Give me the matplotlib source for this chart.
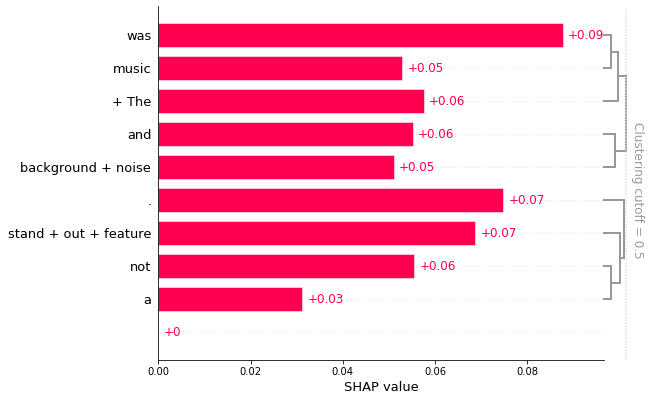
import matplotlib
matplotlib.use("Agg")
import matplotlib.pyplot as plt
import numpy as np

# ---- data (top row first) ----
features = ["was", "music", "+ The", "and", "background + noise", ".",
            "stand + out + feature", "not", "a", ""]
values = [0.0877, 0.0529, 0.0576, 0.0551, 0.0511, 0.0748, 0.0687, 0.0555, 0.0312, 0.0]

# clustering merges: (child_a, child_b, distance); leaves 0..8, merge k gets id 9+k
merges = [(0, 1, 0.152), (9, 2, 0.304), (3, 4, 0.239), (10, 11, 0.493),
          (7, 8, 0.152), (6, 13, 0.37), (5, 14, 0.441)]
cutoff = 0.5

red = "#ff0051"
fig = plt.figure(figsize=(9, 401 / 72), dpi=72)
ax = fig.add_axes([158.3 / 648, 1 - 360 / 401, (604 - 158.3) / 648, (360 - 6) / 401])

n = len(features)
ypos = np.arange(n)
xmax = 0.0966

for i in range(n):
    ax.axhline(ypos[i], color="#888888", lw=0.5, dashes=(1, 5), zorder=-1)

ax.barh(ypos, values, height=0.7, color=red, edgecolor="white", linewidth=0.5, zorder=2)

def fmt(v):
    s = "%+0.02f" % v
    s = s.rstrip("0").rstrip(".")
    return s

for y, v in zip(ypos, values):
    ax.annotate(fmt(v), xy=(v, y), xytext=(5, 0), textcoords="offset points",
                ha="left", va="center", color=red, fontsize=12)

ax.set_xlim(0, xmax)
ax.set_ylim(9.848, -0.879)
ax.set_yticks(ypos)
ax.set_yticklabels(features, fontsize=13)
ax.tick_params(axis="y", left=False, pad=3.5)
ax.tick_params(axis="x", labelsize=10)
ax.set_xlabel("SHAP value", fontsize=13)
for s in ["top", "right"]:
    ax.spines[s].set_visible(False)

# dendrogram
k = 0.00966
node_y = {i: float(ypos[i]) for i in range(n - 1)}
node_h = {i: 0.0 for i in range(n - 1)}
for idx, (a, b, d) in enumerate(merges):
    nid = n - 1 + idx
    ya, yb = node_y[a], node_y[b]
    node_y[nid] = (ya + yb) / 2
    node_h[nid] = d
    if d <= cutoff:
        xs = [xmax + node_h[a] * k, xmax + d * k, xmax + d * k, xmax + node_h[b] * k]
        ys = [ya, ya, yb, yb]
        ax.plot(xs, ys, color="#999999", lw=2, clip_on=False, solid_joinstyle="miter")

cx = xmax + cutoff * k
ln = ax.axvline(cx, color="#dddddd", dashes=(1, 1), lw=1.5, ymin=-0.0, ymax=0.99)
ln.set_clip_on(False)
ax.text(0.1025, 4.7, "Clustering cutoff = 0.5", rotation=-90, ha="left", va="center",
        color="#999999", fontsize=12)

fig.savefig("out.png", dpi=72)
